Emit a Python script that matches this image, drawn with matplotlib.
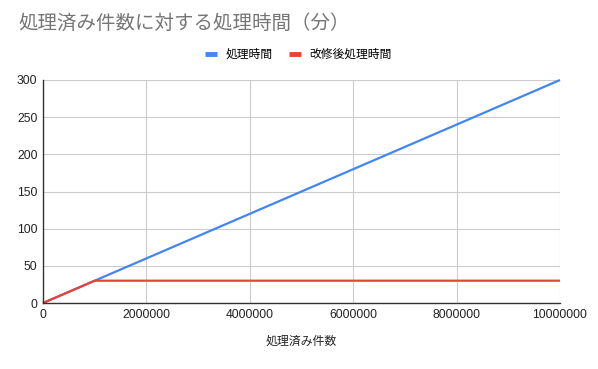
import matplotlib.pyplot as plt
from matplotlib.ticker import FuncFormatter

plt.rcParams['font.family'] = ['Liberation Sans', 'Noto Sans CJK JP', 'DejaVu Sans']

# --- data ---
counts = [0, 1000000, 10000000]
time_before = [0, 30, 300]
time_after = [0, 30, 30]
series_names = ["処理時間", "改修後処理時間"]
x_ticks = [0, 2000000, 4000000, 6000000, 8000000, 10000000]
y_ticks = [0, 50, 100, 150, 200, 250, 300]

fig = plt.figure(figsize=(5.98, 3.69), dpi=100)
ax = fig.add_axes([43 / 598, 1 - 303 / 369, (560 - 43) / 598, (303 - 80) / 369])

ax.plot(counts, time_before, color="#4285F4", lw=1.6, label=series_names[0],
        solid_capstyle="butt", clip_on=False, zorder=3)
ax.plot(counts, time_after, color="#EA4335", lw=1.6, label=series_names[1],
        solid_capstyle="butt", clip_on=False, zorder=4)

ax.set_xlim(0, 10000000)
ax.set_ylim(0, 300)
ax.set_xticks(x_ticks)
ax.set_yticks(y_ticks)
ax.xaxis.set_major_formatter(FuncFormatter(lambda v, p: f"{int(v)}"))
ax.tick_params(length=0, labelsize=8.7, colors="#222222", pad=4)
ax.grid(True, color="#cccccc", lw=0.8)
ax.set_axisbelow(True)

for side in ["top", "right"]:
    ax.spines[side].set_visible(False)
for side in ["left", "bottom"]:
    ax.spines[side].set_color("#333333")
    ax.spines[side].set_linewidth(1.0)
    ax.spines[side].set_zorder(5)

ax.set_xlabel("処理済み件数", fontsize=8.6, color="#222222", labelpad=11)

# title sits at the top-left, like the sheets chart
fig.text(18 / 598, 1 - 23 / 369, "処理済み件数に対する処理時間（分）",
         fontsize=14, color="#757575", va="center", ha="left")

fig.legend(loc="center", bbox_to_anchor=(298.5 / 598, 1 - 55 / 369), ncol=2,
           frameon=False, fontsize=8.5, handlelength=1.0, handletextpad=0.7,
           columnspacing=1.45, borderpad=0)
leg = fig.legends[0]
for line in leg.get_lines():
    line.set_linewidth(3.5)

fig.savefig("out.png", dpi=100)
plt.close(fig)
